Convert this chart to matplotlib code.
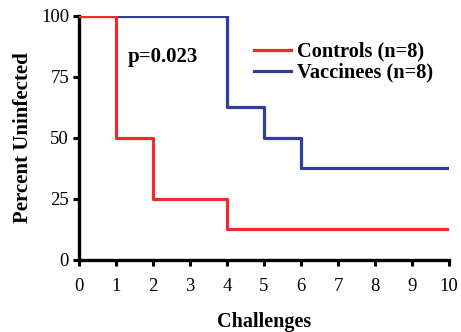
import matplotlib
matplotlib.use("Agg")
import matplotlib.pyplot as plt

plt.rcParams['font.family'] = ['Liberation Serif', 'DejaVu Serif']

# step data (value holds from x until next x)
challenges = [0, 1, 2, 3, 4, 5, 6, 7, 8, 9, 10]
controls = [100, 50, 25, 25, 12.5, 12.5, 12.5, 12.5, 12.5, 12.5, 12.5]
vaccinees = [100, 100, 100, 100, 62.5, 50, 37.5, 37.5, 37.5, 37.5, 37.5]

red = '#ee2a2e'
blue = '#2e3f98'

fig = plt.figure(figsize=(4.61, 3.32), dpi=100)
ax = fig.add_axes([0.171, 0.217, 0.803, 0.735])

ax.step(challenges, vaccinees, where='post', color=blue, lw=2.3, label='Vaccinees (n=8)', zorder=3)
ax.step(challenges, controls, where='post', color=red, lw=2.3, label='Controls (n=8)', zorder=3)

ax.set_xlim(0, 10)
ax.set_ylim(0, 100)
ax.set_xticks(range(0, 11))
ax.set_yticks([0, 25, 50, 75, 100])

for s in ['top', 'right']:
    ax.spines[s].set_visible(False)
for s in ['left', 'bottom']:
    ax.spines[s].set_linewidth(2.4)
ax.tick_params(direction='out', length=4, width=2.2, labelsize=13.5)
ax.tick_params(axis='x', pad=9)
ax.tick_params(axis='y', pad=3)

ax.set_xlabel('Challenges', fontsize=14.5, fontweight='bold', labelpad=12)
ax.set_ylabel('Percent Uninfected', fontsize=15, fontweight='bold', labelpad=6)

ax.text(1.32, 83, 'p=0.023', fontsize=15, fontweight='bold', va='center')

h, l = ax.get_legend_handles_labels()
ax.legend(h[::-1], l[::-1], loc='upper left', bbox_to_anchor=(0.452, 0.928),
          frameon=False, prop={'weight': 'bold', 'size': 14.7},
          handlelength=1.8, handletextpad=0.3, labelspacing=0.05, borderaxespad=0)

fig.savefig('out.png', dpi=100)
